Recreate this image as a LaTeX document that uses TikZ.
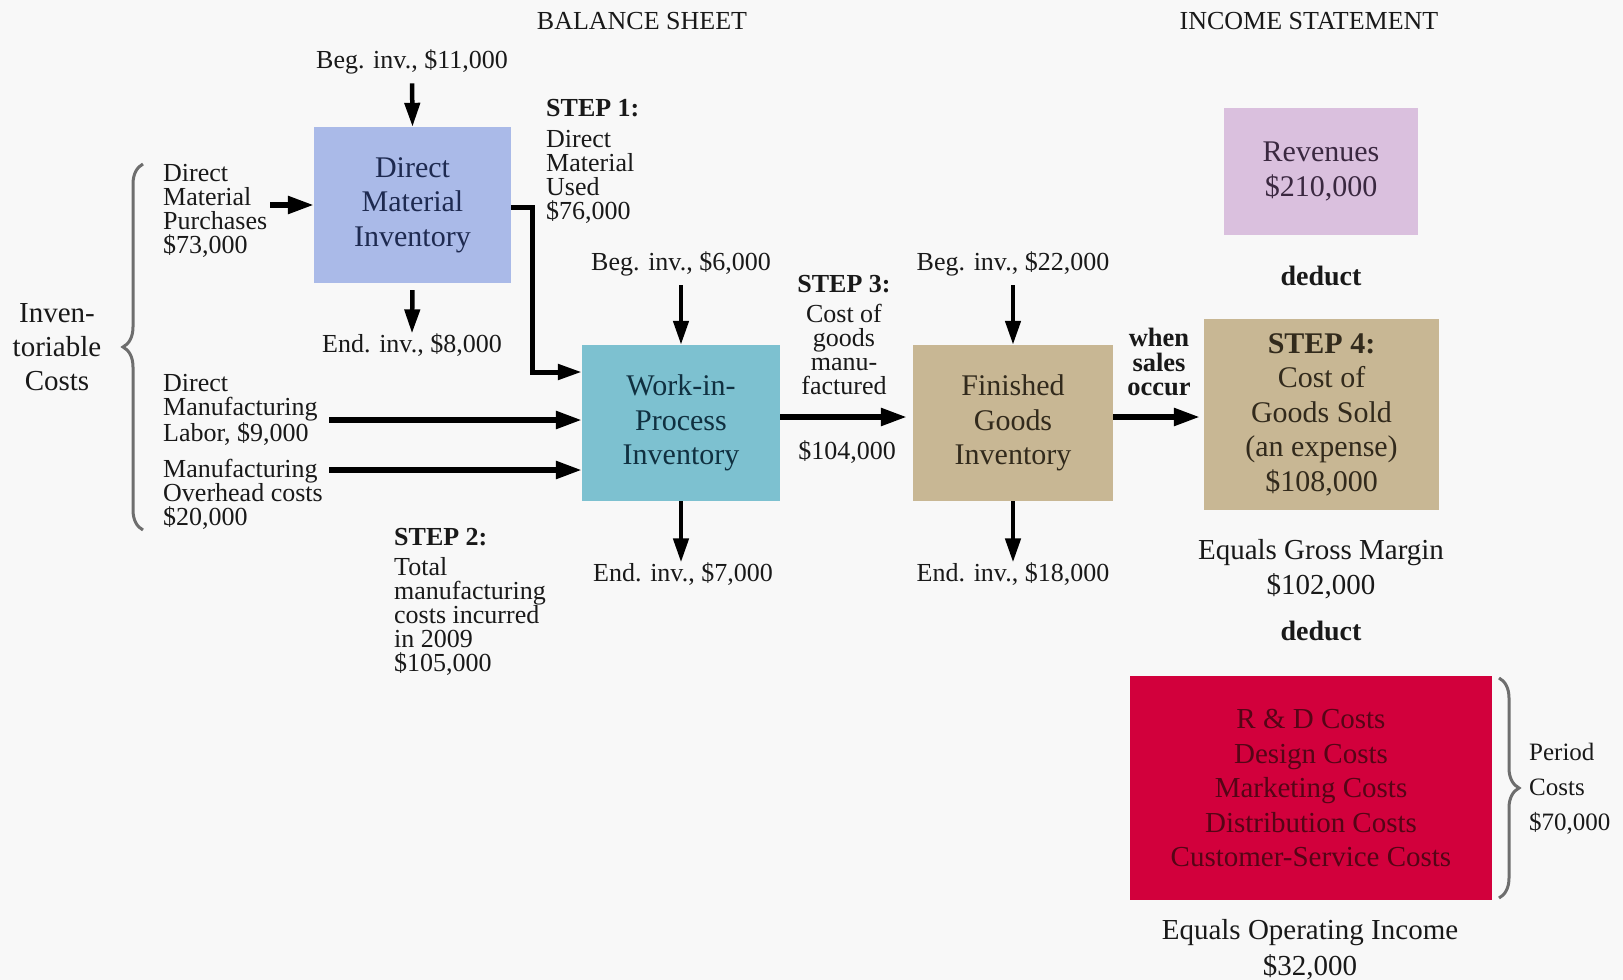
\documentclass[tikz,border=0pt]{standalone}
\usepackage{fontspec}
\setmainfont{Liberation Serif}
\usetikzlibrary{arrows.meta,decorations.pathreplacing,calc}
\definecolor{bgc}{RGB}{248,248,248}
\definecolor{txt}{RGB}{25,25,25}
\definecolor{dmiblue}{RGB}{170,186,232}
\definecolor{dmitxt}{RGB}{30,42,80}
\definecolor{wipteal}{RGB}{125,193,208}
\definecolor{wiptxt}{RGB}{16,48,64}
\definecolor{tan}{RGB}{200,183,148}
\definecolor{tantxt}{RGB}{50,42,28}
\definecolor{lilac}{RGB}{218,192,222}
\definecolor{lilactxt}{RGB}{58,40,64}
\definecolor{crimson}{RGB}{210,0,60}
\definecolor{crimsontxt}{RGB}{85,5,22}
\definecolor{bracegray}{RGB}{110,110,110}
\begin{document}
\begin{tikzpicture}[x=1pt,y=-1pt,
  lbl/.style={inner sep=0pt, text=txt, font=\fontsize{26}{24}\selectfont, align=left},
  clbl/.style={lbl, align=center},
  boldlbl/.style={inner sep=0pt, text=txt, font=\bfseries\fontsize{28}{24}\selectfont, align=center},
  box/.style={inner sep=0pt, align=center, font=\fontsize{30}{34.5}\selectfont},
  arr/.style={draw=black, line width=5.5pt, -{Triangle[length=26pt,width=17pt]}},
  varr/.style={draw=black, line width=4.5pt, -{Triangle[length=24pt,width=15pt]}},
  brc/.style={draw=bracegray, line width=3pt, decorate, decoration={brace, amplitude=20pt}}]
\useasboundingbox (0,0) rectangle (1623,980);
\fill[bgc] (0,0) rectangle (1623,980);

% titles
\node[lbl] (bs) at (642,21) {BALANCE SHEET};
\node[lbl] (is) at (1309,21) {INCOME STATEMENT};

% boxes
\node[box, fill=dmiblue, text=dmitxt, minimum width=197pt, minimum height=156pt] (DMI) at (412.5,205) {Direct\\Material\\Inventory};
\node[box, fill=wipteal, text=wiptxt, minimum width=198pt, minimum height=156pt] (WIP) at (681,423) {Work-in-\\Process\\Inventory};
\node[box, fill=tan, text=tantxt, minimum width=200pt, minimum height=156pt] (FG) at (1013,423) {Finished\\Goods\\Inventory};
\node[box, fill=tan, text=tantxt, minimum width=235pt, minimum height=191pt] (COGS) at (1321.5,414.5) {\textbf{STEP 4:}\\Cost of\\Goods Sold\\(an expense)\\\$108,000};
\node[box, fill=lilac, text=lilactxt, minimum width=194pt, minimum height=127pt] (REV) at (1321,171.5) {Revenues\\\$210,000};
\node[box, fill=crimson, text=crimsontxt, font=\fontsize{29}{34.5}\selectfont, minimum width=362pt, minimum height=224pt] (PER) at (1311,788) {R \& D Costs\\Design Costs\\Marketing Costs\\Distribution Costs\\Customer-Service Costs};

% left labels
\node[lbl, anchor=west] (dmp) at (163,211) {Direct\\Material\\Purchases\\\$73,000};
\node[lbl, anchor=west] (dml) at (163,410) {Direct\\Manufacturing\\Labor, \$9,000};
\node[lbl, anchor=west] (moh) at (163,494) {Manufacturing\\Overhead costs\\\$20,000};
\node[clbl, font=\fontsize{29}{34}\selectfont] (ic) at (57,347) {Inven-\\toriable\\Costs};

% inventory labels
\node[lbl] (b1) at (412,62) {Beg. inv., \$11,000};
\node[lbl] (e1) at (412,345) {End. inv., \$8,000};
\node[lbl] (b2) at (681,264) {Beg. inv., \$6,000};
\node[lbl] (e2) at (683,574) {End. inv., \$7,000};
\node[lbl] (b3) at (1013,264) {Beg. inv., \$22,000};
\node[lbl] (e3) at (1013,574) {End. inv., \$18,000};

% steps
\node[lbl, anchor=west] (s1) at (546,161.5) {\textbf{STEP 1:}\\[7pt]Direct\\Material\\Used\\\$76,000};
\node[lbl, anchor=west] (s2) at (394,602) {\textbf{STEP 2:}\\[6pt]Total\\manufacturing\\costs incurred\\in 2009\\\$105,000};
\node[clbl] (s3) at (844,335.5) {\textbf{STEP 3:}\\[6pt]Cost of\\goods\\manu-\\factured};
\node[clbl] (s3v) at (847,452) {\$104,000};
\node[boldlbl, font=\bfseries\fontsize{26.5}{24.5}\selectfont] (wso) at (1159,362) {when\\sales\\occur};

% income statement texts
\node[boldlbl] (d1) at (1321,276) {deduct};
\node[clbl, font=\fontsize{29}{35}\selectfont] (gm) at (1321,569.5) {Equals Gross Margin\\\$102,000};
\node[boldlbl] (d2) at (1321,631) {deduct};
\node[clbl, font=\fontsize{29}{36}\selectfont] (oi) at (1310,950) {Equals Operating Income\\\$32,000};
\node[lbl, anchor=west, font=\fontsize{25}{35}\selectfont] (pc) at (1529,789) {Period\\Costs\\\$70,000};

% braces
\draw[brc] (143,530) -- (143,164);
\draw[brc] (1499,678) -- (1499,898);

% vertical arrows
\draw[varr, shorten <=9pt] (b1.south) -- (DMI.north);
\draw[varr, shorten <=7pt] (DMI.south) -- (e1.north);
\draw[varr, shorten <=9pt] (b2.south) -- (WIP.north);
\draw[varr] (WIP.south) -- (e2.north -| WIP.south);
\draw[varr, shorten <=9pt] (b3.south) -- (FG.north);
\draw[varr] (FG.south) -- (e3.north);

% horizontal arrows
\draw[arr, shorten <=3pt] (dmp.east |- DMI.west) -- (DMI.west);
\coordinate (k1) at (532,207);
\coordinate (k2) at (532,372);
\draw[varr, line width=5pt, line join=miter] (DMI.east |- k1) -- (k1) -- (k2) -- (k2 -| WIP.west);
\coordinate (l1) at (329,420);
\coordinate (m1) at (329,470);
\draw[arr] (l1) -- (l1 -| WIP.west);
\draw[arr] (m1) -- (m1 -| WIP.west);
\coordinate (w1) at ([yshift=6pt]WIP.east);
\draw[arr, shorten >=6pt] (w1) -- (w1 -| FG.west);
\coordinate (f1) at ([yshift=6pt]FG.east);
\draw[arr, shorten >=4pt] (f1) -- (f1 -| COGS.west);
\end{tikzpicture}
\end{document}
